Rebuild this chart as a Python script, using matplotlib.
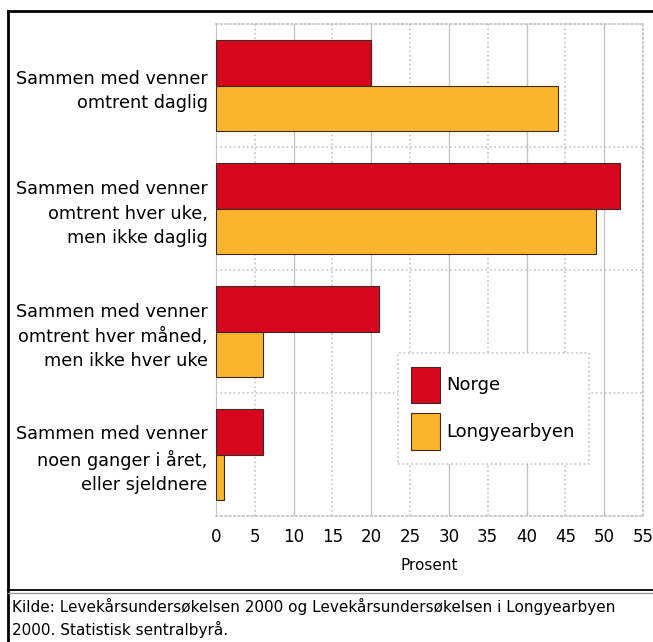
import matplotlib
matplotlib.use("Agg")
import matplotlib.pyplot as plt
import numpy as np
from matplotlib.lines import Line2D

categories = [
    "Sammen med venner\nomtrent daglig",
    "Sammen med venner\nomtrent hver uke,\nmen ikke daglig",
    "Sammen med venner\nomtrent hver måned,\nmen ikke hver uke",
    "Sammen med venner\nnoen ganger i året,\neller sjeldnere",
]
norge = [20, 52, 21, 6]
longyearbyen = [44, 49, 6, 1]
series_names = ["Norge", "Longyearbyen"]
xticks = list(range(0, 60, 5))
source = ("Kilde: Levekårsundersøkelsen 2000 og Levekårsundersøkelsen i Longyearbyen\n"
          "2000. Statistisk sentralbyrå.")

RED = "#d7061f"
ORANGE = "#fbb52c"
GRID = "#c4c4c4"

plt.rcParams['font.family'] = ['DejaVu Sans']

W, H = 653, 642
fig = plt.figure(figsize=(W / 100, H / 100), dpi=100)
ax = fig.add_axes([216 / W, 1 - 516 / H, (643 - 216) / W, (516 - 24) / H])

y = np.arange(len(categories))
h = 0.37
ax.barh(y - h / 2, norge, height=h, color=RED, edgecolor="#3a2a20",
        linewidth=0.8, label=series_names[0], zorder=3)
ax.barh(y + h / 2, longyearbyen, height=h, color=ORANGE, edgecolor="#3a2a20",
        linewidth=0.8, label=series_names[1], zorder=3)

ax.set_ylim(len(categories) - 0.5, -0.5)
ax.set_xlim(0, 55)
ax.set_xticks(xticks)
ax.set_yticks(y)
ax.set_yticklabels(categories, fontsize=12.7, linespacing=1.45)
ax.tick_params(axis='y', length=0, pad=6)
ax.tick_params(axis='x', length=0, pad=9, labelsize=12)
ax.set_xlabel("Prosent", fontsize=11, labelpad=8)

# gridlines: solid at every 10, dotted at the fives in between
for v in xticks[1:]:
    if v % 10 == 0:
        ax.axvline(v, color=GRID, lw=1.0, zorder=1)
    else:
        ax.axvline(v, color=GRID, lw=1.2, ls=":", zorder=1)
for b in np.arange(0.5, len(categories) - 0.5, 1):
    ax.axhline(b, color=GRID, lw=1.2, ls=":", zorder=1)

ax.spines['left'].set_color(GRID)
for s in ['top', 'bottom', 'right']:
    ax.spines[s].set_color(GRID)
    ax.spines[s].set_linestyle(":")
    ax.spines[s].set_linewidth(1.2)

leg = ax.legend(loc="upper left", bbox_to_anchor=(0.426, 0.331), fontsize=13,
                handlelength=1.6, handleheight=2.75, handletextpad=0.35,
                labelspacing=0.55, borderpad=0.75, borderaxespad=0,
                fancybox=False, framealpha=1)
leg.get_frame().set_edgecolor(GRID)
leg.get_frame().set_linestyle(":")
leg.get_frame().set_linewidth(1.2)

# outer frame and source separator
fig.add_artist(Line2D([8 / W, 8 / W], [0, 1 - 11 / H], color="black", lw=2))
fig.add_artist(Line2D([8 / W, 1], [1 - 11 / H, 1 - 11 / H], color="black", lw=2))
fig.add_artist(Line2D([8 / W, 1], [1 - 590 / H, 1 - 590 / H], color="black", lw=1.3))
fig.add_artist(Line2D([8 / W, 1], [1 - 593 / H, 1 - 593 / H], color="#999999", lw=1))

fig.text(12 / W, 1 - 618 / H, source, fontsize=11, va="center", ha="left",
         linespacing=1.4)

fig.savefig("out.png", dpi=100)
